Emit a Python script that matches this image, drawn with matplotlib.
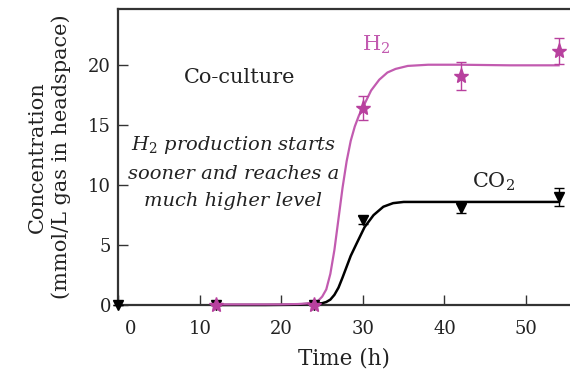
import numpy as np
import matplotlib
matplotlib.use("Agg")
import matplotlib.pyplot as plt
import matplotlib.transforms as mtransforms

# measured points
h2_time = [12, 24, 30, 42, 54]
h2_conc = [0.0, 0.0, 16.4, 19.1, 21.2]
h2_err = [0.0, 0.0, 1.0, 1.15, 1.05]

co2_time = [0, 12, 24, 30, 42, 54]
co2_conc = [0.0, 0.0, 0.0, 7.1, 8.1, 9.0]
co2_err = [0.0, 0.0, 0.0, 0.3, 0.45, 0.75]

# fitted curves
h2_fit_t = [12, 16, 20, 22, 23, 24, 24.5, 25, 25.5, 26, 26.5, 27, 27.5, 28, 28.5,
            29, 29.5, 30, 31, 32, 33, 34, 35.5, 38, 42, 48, 54]
h2_fit_v = [0.05, 0.05, 0.05, 0.08, 0.12, 0.2, 0.35, 0.7, 1.3, 2.6, 4.6, 7.2, 9.8,
            12.0, 13.7, 14.9, 15.8, 16.5, 17.9, 18.8, 19.4, 19.7, 19.95, 20.05, 20.05, 20.0, 20.0]

co2_fit_t = [12, 18, 21.4, 23.5, 25, 25.5, 26, 26.5, 27, 27.5, 28, 28.5, 29.2, 30.2,
             31.3, 32.5, 33.7, 35, 38.2, 45, 54]
co2_fit_v = [0.0, 0.0, 0.02, 0.1, 0.15, 0.25, 0.45, 0.85, 1.45, 2.3, 3.2, 4.1, 5.1, 6.5,
             7.5, 8.2, 8.5, 8.6, 8.6, 8.6, 8.6]

x_ticks = [0, 10, 20, 30, 40, 50]
y_ticks = [0, 5, 10, 15, 20]

pink = "#c25bb0"
star_pink = "#b8409e"
ink = "#222222"

plt.rcParams["font.family"] = "DejaVu Serif"
plt.rcParams["mathtext.fontset"] = "dejavuserif"

fig = plt.figure(figsize=(5.7, 3.76), dpi=100)
ax = fig.add_axes([118 / 570, 71 / 376, 452 / 570, 296 / 376])

ax.plot(co2_fit_t, co2_fit_v, color="black", lw=1.8, clip_on=False, zorder=3)
ax.plot(h2_fit_t, h2_fit_v, color=pink, lw=1.6, clip_on=False, zorder=4)

ax.errorbar(co2_time, co2_conc, yerr=co2_err, fmt="v", color="black", ms=7,
            elinewidth=1, capsize=3.5, capthick=1, clip_on=False, zorder=5)
ax.errorbar(h2_time, h2_conc, yerr=h2_err, fmt="*", color=star_pink, ms=11,
            elinewidth=1, capsize=3.5, capthick=1, clip_on=False, zorder=6)

ax.set_xlim(-0.05, 55.4)
ax.set_ylim(0, 24.7)
ax.set_xticks(x_ticks)
ax.set_yticks(y_ticks)

for side in ["left", "bottom", "top"]:
    ax.spines[side].set_linewidth(1.6)
    ax.spines[side].set_color("#333333")
ax.spines["right"].set_visible(False)

ax.tick_params(axis="both", direction="in", length=7, width=1, colors="#333333",
               labelsize=13, labelcolor=ink)
ax.tick_params(axis="x", pad=11)
ax.tick_params(axis="y", pad=5)

# the "0" label sits a little right of the spine in the original
lab0 = ax.xaxis.get_major_ticks()[0].label1
lab0.set_transform(lab0.get_transform() + mtransforms.ScaledTranslation(0.12, 0, fig.dpi_scale_trans))

ax.set_xlabel("Time (h)", fontsize=15.5, color=ink, labelpad=7)
ax.set_ylabel("Concentration\n(mmol/L gas in headspace)", fontsize=15, color=ink,
              linespacing=1.3, labelpad=12)

ax.text(0.27, 0.767, "Co-culture", transform=ax.transAxes, fontsize=15,
        color=ink, ha="center", va="center")
ax.text(0.255, 0.449, "H$_2$ production starts\nsooner and reaches a\nmuch higher level",
        transform=ax.transAxes, fontsize=14, style="italic", color=ink,
        ha="center", va="center", linespacing=1.65)
ax.text(0.57, 0.878, "H$_2$", transform=ax.transAxes, fontsize=15, color=pink,
        ha="center", va="center")
ax.text(0.83, 0.416, "CO$_2$", transform=ax.transAxes, fontsize=15, color=ink,
        ha="center", va="center")

plt.savefig("out.png", dpi=100)
